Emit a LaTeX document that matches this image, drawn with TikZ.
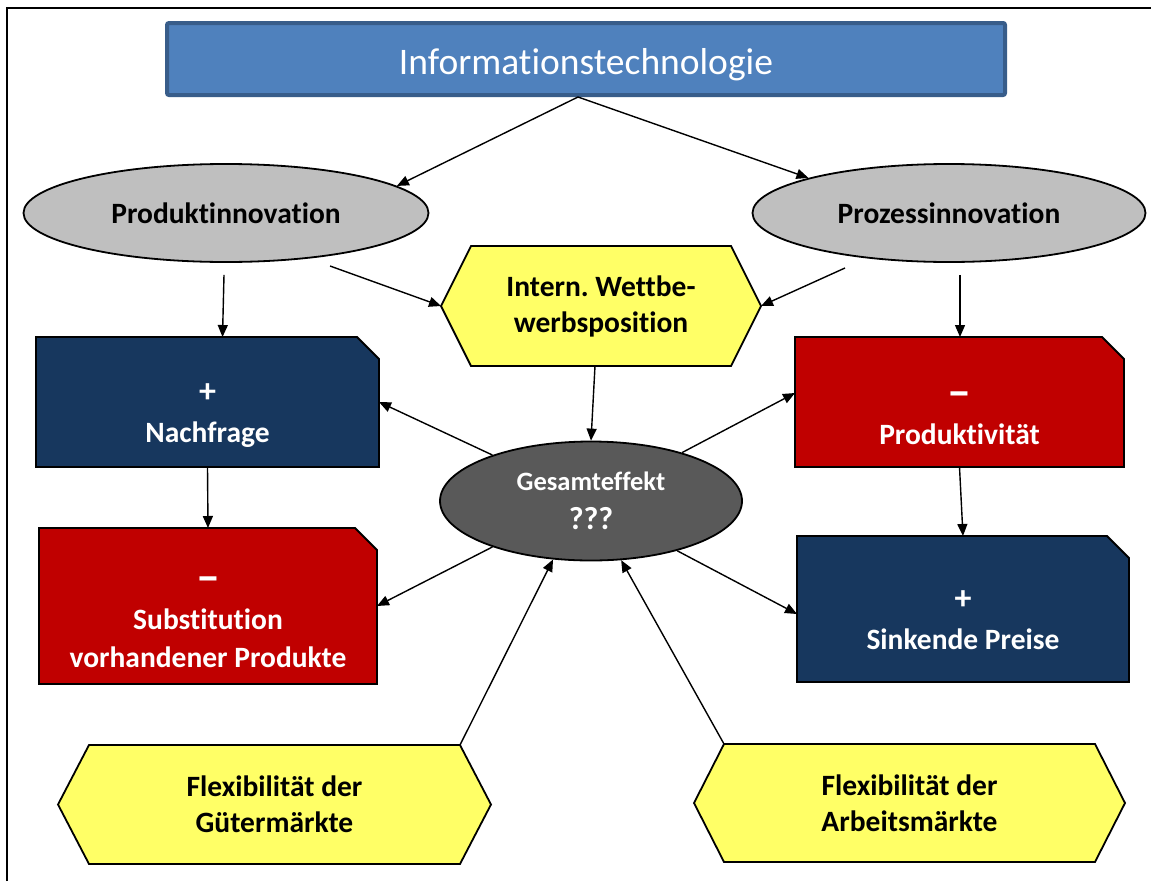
\documentclass[tikz,border=0pt]{standalone}
\usepackage{fontspec}
\setmainfont{Carlito}[Ligatures={NoCommon}]
\usetikzlibrary{arrows.meta,calc,backgrounds,shapes.geometric}
\definecolor{itblue}{HTML}{4F81BD}
\definecolor{itborder}{HTML}{385D8A}
\definecolor{navybox}{HTML}{17375E}
\definecolor{redbox}{HTML}{C00000}
\definecolor{hexyellow}{HTML}{FFFF66}
\definecolor{ellgray}{HTML}{BFBFBF}
\definecolor{gesgray}{HTML}{595959}
\newcommand{\snipshape}[2]{\path[boxline,fill=#2] (#1.north west) -- ($(#1.north east)+(-22,0)$) -- ($(#1.north east)+(0,22)$) -- (#1.south east) -- (#1.south west) -- cycle;}
\newcommand{\hexshape}[2]{\path[boxline,fill=hexyellow] (#1.west) -- ($(#1.north west)+(#2,0)$) -- ($(#1.north east)+(-#2,0)$) -- (#1.east) -- ($(#1.south east)+(-#2,0)$) -- ($(#1.south west)+(#2,0)$) -- cycle;}
\newcommand{\bigsym}[1]{{\fontsize{34}{40}\selectfont #1}}
\newcommand{\bigdash}{\raisebox{-3pt}{\fontsize{48}{40}\selectfont –}}
\frenchspacing
\begin{document}
\begin{tikzpicture}[x=1pt,y=-1pt,
  arr/.style={-{Triangle[length=12pt,width=10pt]}, line width=1.4pt, draw=black},
  boxline/.style={draw=black, line width=1.8pt, line join=miter},
  ell/.style={ellipse, draw=black, line width=1.8pt, fill=ellgray, inner sep=0pt, font=\fontsize{29.5}{34}\selectfont\bfseries},
  area/.style={rectangle, inner sep=0pt, outer sep=0pt},
  hextext/.style={area, align=center, font=\fontsize{29.5}{36}\selectfont\bfseries},
  boxtext/.style={align=center, inner sep=0pt, text=white, font=\fontsize{29.5}{40}\selectfont\bfseries}
]
\useasboundingbox (0,0) rectangle (1151,881);
\draw[line width=1.8pt] (7,881) -- (7,8) -- (1151,8);

% top box
\node[draw=itborder, line width=4pt, fill=itblue, rounded corners=2pt, minimum width=838pt, minimum height=72pt, text height=38pt, text depth=7.5pt, text=white, font=\fontsize{37.5}{40}\selectfont] (it) at (586,59) {Informationstechnologie};

% ellipses
\node[ell, minimum width=405pt, minimum height=98pt] (prod) at (226,213) {Produktinnovation};
\node[ell, minimum width=393pt, minimum height=98pt] (proz) at (949,213) {Prozessinnovation};

% hexagons
\node[hextext, minimum width=320pt, minimum height=120pt] (wett) at (601,306) {Intern. Wettbe-\\werbsposition};
\node[hextext, minimum width=433pt, minimum height=119pt] (gut) at (274.5,804.5) {Flexibilität der\\Gütermärkte};
\node[hextext, minimum width=431pt, minimum height=118pt] (arb) at (909.5,803) {Flexibilität der\\Arbeitsmärkte};

% snipped boxes (areas)
\node[area, minimum width=343pt, minimum height=130pt] (nach) at (207.5,402) {};
\node[area, minimum width=338pt, minimum height=156pt] (subst) at (208,606) {};
\node[area, minimum width=329pt, minimum height=130pt] (prodv) at (959.5,402) {};
\node[area, minimum width=332pt, minimum height=146pt] (sink) at (963,609) {};

\begin{pgfonlayer}{background}
\hexshape{wett}{30}
\hexshape{gut}{31}
\hexshape{arb}{30}
\snipshape{nach}{navybox}
\snipshape{subst}{redbox}
\snipshape{prodv}{redbox}
\snipshape{sink}{navybox}
\end{pgfonlayer}

\node[boxtext] (nachT) at ($(nach.center)+(0,14)$) {\bigsym{+}\\Nachfrage};
\node[boxtext] (substT) at ($(subst.center)+(0,16)$) {\bigdash\\Substitution\\[-2pt]vorhandener Produkte};
\node[boxtext] (prodvT) at ($(prodv.center)+(0,16)$) {\bigdash\\Produktivität};
\node[boxtext] (sinkT) at ($(sink.center)+(0,11)$) {\bigsym{+}\\Sinkende Preise};

% Gesamteffekt
\node[ellipse, draw=black, line width=1.8pt, fill=gesgray, minimum width=302pt, minimum height=119pt, inner sep=0pt, align=center, text=white, font=\fontsize{26.5}{39}\selectfont\bfseries] (ges) at (591,501) {Gesamteffekt\\{\fontsize{32}{39}\selectfont ???}};

% connectors
\draw[arr] ($(it.south)+(-8,0)$) -- (prod.9);
\draw[arr] ($(it.south)+(-8,0)$) -- (proz.166);
\draw[arr] ($(prod.south)+(-2,12)$) -- ($(nach.north)+(15,0)$);
\draw[arr] ($(prod.center)+(104,53)$) -- (wett.west);
\draw[arr] ($(proz.center)+(-104,55)$) -- (wett.east);
\draw[arr] ($(proz.south)+(11,12)$) -- ($(prodv.north)+(0.5,0)$);
\draw[arr] ($(wett.south)+(-6,0)$) -- (ges.north);
\draw[arr] (ges.155) -- (nach.east);
\draw[arr] (ges.28) -- ($(prodv.west)+(0,-9)$);
\draw[arr] (ges.205) -- (subst.east);
\draw[arr] (ges.330) -- ($(sink.west)+(0,5)$);
\draw[arr] (nach.south) -- (subst.north);
\draw[arr] (prodv.south) -- (sink.north);
\draw[arr] ($(gut.north east)+(-31,0)$) -- (ges.237);
\draw[arr] ($(arb.north west)+(30,0)$) -- (ges.297);
\end{tikzpicture}
\end{document}
